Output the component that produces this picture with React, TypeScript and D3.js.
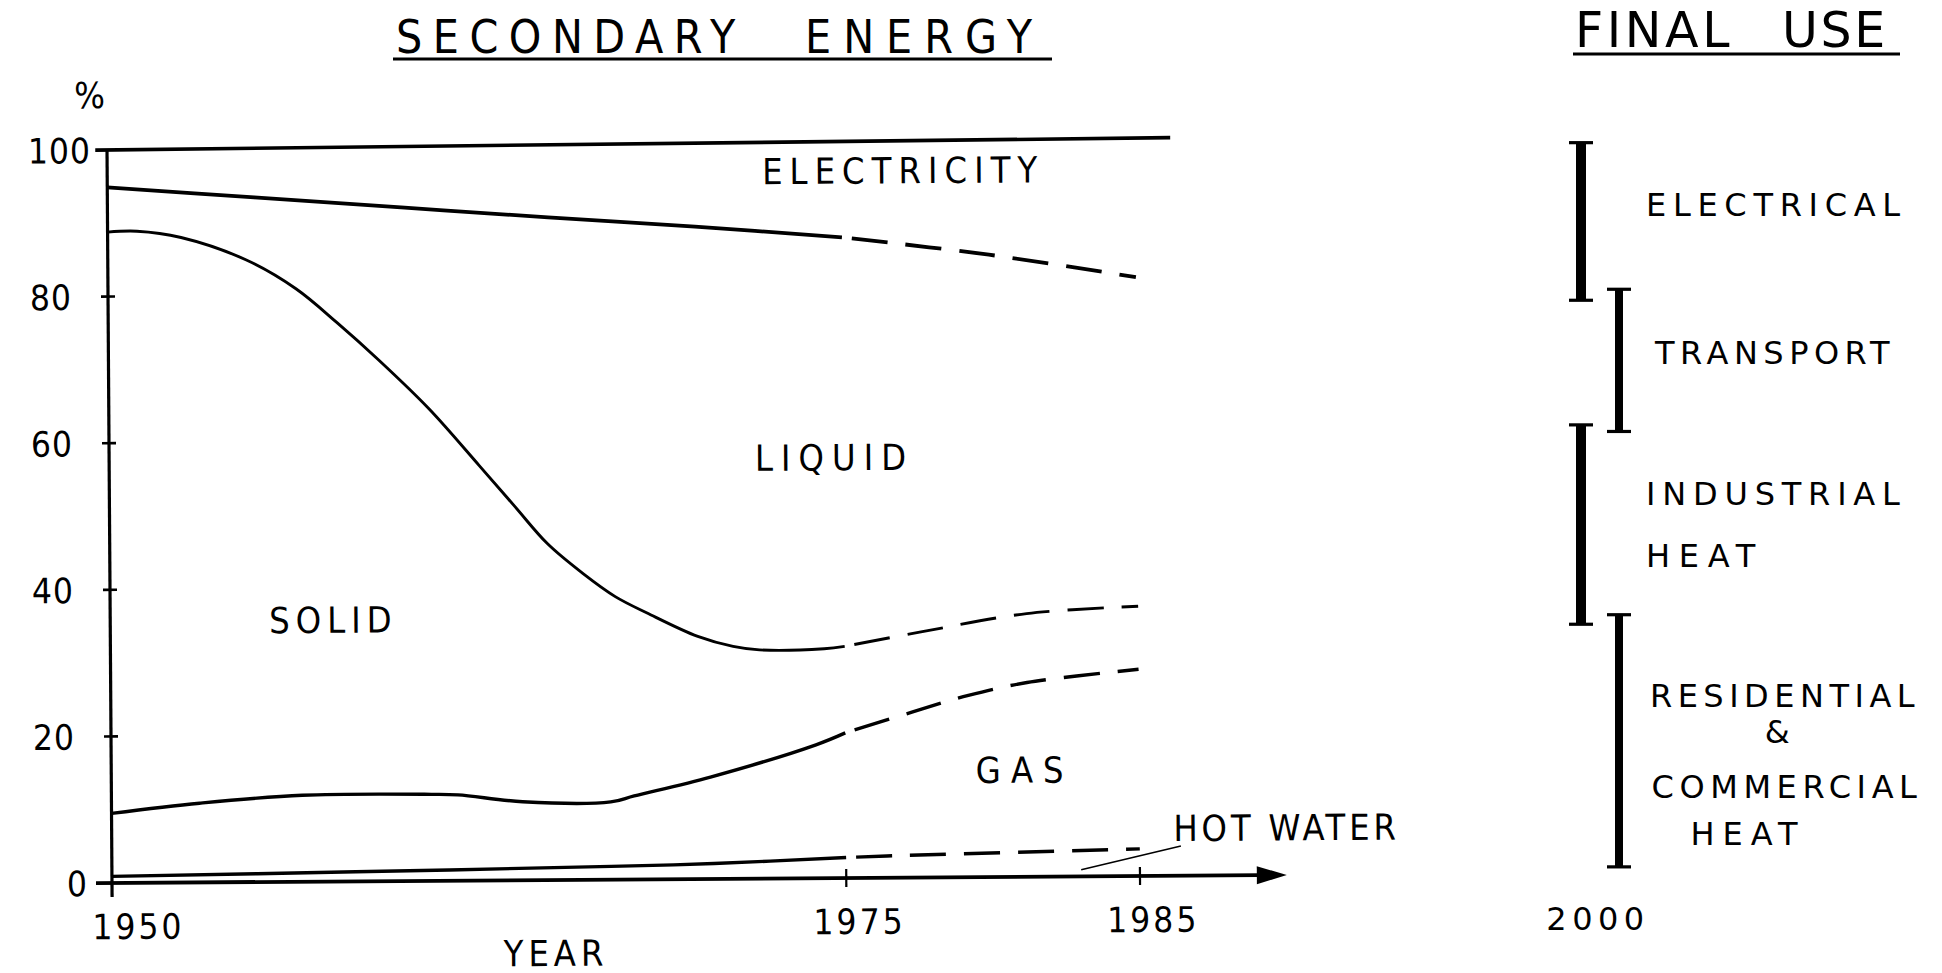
import React from 'react';
import * as d3 from 'd3';

// cumulative shares of secondary energy (%)
const topYears = [1949.6, 1986.2];
const topVals = [100, 100.7];

const elecYears = [1950, 1955, 1960, 1965, 1970, 1975, 1980, 1985];
const elecVals = [94.9, 93.4, 91.9, 90.4, 89.0, 87.4, 84.9, 81.7];

const liquidYears = [1950, 1951, 1952.5, 1954.7, 1956.4, 1957.8, 1959.2, 1960.9, 1962.6, 1963.8, 1964.9, 1966.1, 1967.2, 1968.3, 1970, 1971.2, 1972.1, 1974.3, 1975, 1977.6, 1981.2, 1985];
const liquidVals = [88.8, 88.9, 88.0, 84.9, 80.9, 76.2, 71.1, 64.4, 56.6, 51.0, 45.9, 41.8, 38.6, 36.3, 33.1, 31.7, 31.2, 31.3, 31.6, 33.5, 35.9, 36.8];

const gasYears = [1950, 1953, 1956.5, 1960.9, 1961.8, 1964, 1967, 1967.8, 1970.4, 1974, 1975, 1977.3, 1979.2, 1981.2, 1985];
const gasVals = [9.5, 10.8, 11.8, 11.8, 11.7, 10.7, 10.6, 11.4, 13.9, 18.2, 19.8, 22.6, 24.8, 26.5, 28.2];

const hotWaterYears = [1950, 1958.3, 1967, 1970.5, 1975, 1976.7, 1985];
const hotWaterVals = [0.9, 1.3, 1.8, 2.1, 2.8, 3.0, 3.7];

const projectionFrom = 1975; // dashed after this year

const yTicks = [0, 20, 40, 60, 80, 100];
const xTicks = [1950, 1975, 1985];

// final use in 2000, ranges on the same % scale
const finalUseNames = ['ELECTRICAL', 'TRANSPORT', 'INDUSTRIAL HEAT', 'RESIDENTIAL & COMMERCIAL HEAT'];
const finalUseTop = [101.0, 81.0, 62.5, 36.6];
const finalUseBottom = [79.5, 61.6, 35.3, 2.2];
const finalUseYear = '2000';

const W = 1942;
const H = 973;
const narrow = "'DejaVu Sans Condensed', 'DejaVu Sans', sans-serif";
const wide = "'DejaVu Sans', Verdana, sans-serif";

type Pt = [number, number];
const zip = (xs: number[], ys: number[]): Pt[] => xs.map((x, i) => [x, ys[i]]);

export default function App() {
  const x = d3.scaleLinear().domain([1950, 1985]).range([112, 1140]);
  const y = d3.scaleLinear().domain([0, 100]).range([883, 150]);
  const x0 = x(1950);
  const y0 = y(0);

  const line = d3.line<Pt>()
    .x(d => x(d[0]))
    .y(d => y(d[1]))
    .curve(d3.curveCatmullRom.alpha(0.5));

  const boundaries = [
    { pts: zip(elecYears, elecVals), w: 3.8 },
    { pts: zip(liquidYears, liquidVals), w: 2.9 },
    { pts: zip(gasYears, gasVals), w: 3.4 },
    { pts: zip(hotWaterYears, hotWaterVals), w: 3.4 },
  ];

  // the scan sits a little skewed, so the chart is turned the same way
  const tilt = `rotate(-0.39, ${x0}, ${y0})`;

  const arrowTip = x(1990);
  const arrowBase = arrowTip - 30;

  // where the region names sit (year, %)
  const regionLabels: { t: string; yr: number; v: number; ls: number }[] = [
    { t: 'ELECTRICITY', yr: 1977.1, v: 96.5, ls: 7 },
    { t: 'LIQUID', yr: 1974.7, v: 57.4, ls: 8 },
    { t: 'SOLID', yr: 1957.6, v: 35.7, ls: 6 },
    { t: 'GAS', yr: 1981.1, v: 14.6, ls: 10 },
    { t: 'HOT WATER', yr: 1990.0, v: 6.5, ls: 3.8 },
  ];

  // hand lettered tick numbers do not line up, nudge a couple of them
  const yLabelNudge = (t: number) => (t === 100 ? 22 : t === 0 ? 14 : 2);

  const barX = (i: number) => (i % 2 === 0 ? 1581 : 1619);

  return (
    <svg width={W} height={H} style={{ position: 'absolute', left: 0, top: 0, display: 'block', background: '#fff' }}>
      <rect width={W} height={H} fill="#fff" />

      {/* titles */}
      <g fontFamily={narrow} fontSize={46} fill="#000">
        <text x={396} y={53} letterSpacing={10.5}>SECONDARY</text>
        <text x={805} y={53} letterSpacing={12}>ENERGY</text>
      </g>
      <line x1={393} x2={1052} y1={59} y2={59} stroke="#000" strokeWidth={3.2} />

      <g fontFamily={wide} fontSize={49} fill="#000">
        <text x={1575} y={47} letterSpacing={3.6}>FINAL</text>
        <text x={1782} y={47} letterSpacing={2.6}>USE</text>
      </g>
      <line x1={1573} x2={1900} y1={54} y2={54} stroke="#000" strokeWidth={2.8} />

      <g transform={tilt}>
        {/* 100% line */}
        <path d={line(zip(topYears, topVals)) ?? ''} fill="none" stroke="#000" strokeWidth={3.6} />

        {boundaries.map((b, i) => {
          const solid = b.pts.filter(p => p[0] <= projectionFrom);
          const dashed = b.pts.filter(p => p[0] >= projectionFrom);
          return (
            <g key={i} fill="none" stroke="#000" strokeWidth={b.w}>
              <path d={line(solid) ?? ''} />
              <path d={line(dashed) ?? ''} strokeDasharray="36 18" strokeDashoffset={44} />
            </g>
          );
        })}

        {/* axes */}
        <line x1={x0} x2={x0} y1={y(100)} y2={y0 + 14} stroke="#000" strokeWidth={3.2} />
        <line x1={x0 - 16} x2={arrowBase + 2} y1={y0} y2={y0} stroke="#000" strokeWidth={3.8} />
        <path d={`M${arrowTip},${y0} L${arrowBase},${y0 - 9} L${arrowBase},${y0 + 9} Z`} fill="#000" />

        {yTicks.filter(t => t > 0 && t < 100).map(t => (
          <line key={t} x1={x0 - 7} x2={x0 + 7} y1={y(t)} y2={y(t)} stroke="#000" strokeWidth={2.6} />
        ))}
        {xTicks.filter(t => t > 1950).map(t => (
          <line key={t} x1={x(t)} x2={x(t)} y1={y0 - 9} y2={y0 + 9} stroke="#000" strokeWidth={2.2} />
        ))}

        <g fontFamily={narrow} fontSize={35} fill="#000">
          {yTicks.map(t => (
            <text key={t} x={x0 - 38 + yLabelNudge(t)} y={y(t) + 13} textAnchor="end" letterSpacing={1}>{t}</text>
          ))}
          {xTicks.map((t, i) => (
            <text key={t} x={i === 0 ? x(t) - 20 : x(t) + 13} y={y0 + 56}
              textAnchor={i === 0 ? 'start' : 'middle'} letterSpacing={3}>{t}</text>
          ))}
          <text x={x0 - 17} y={y(100) - 42} textAnchor="middle" fontSize={36}>%</text>
          <text x={x(1965.1)} y={y0 + 86} textAnchor="middle" fontSize={36} letterSpacing={5}>YEAR</text>
        </g>

        <g fontFamily={narrow} fontSize={36} fill="#000">
          {regionLabels.map(l => (
            <text key={l.t} x={x(l.yr)} y={y(l.v) + 13} textAnchor="middle" letterSpacing={l.ls}>{l.t}</text>
          ))}
        </g>
        <line x1={x(1983.0)} y1={y(0.9)} x2={x(1986.4)} y2={y(4.05)} stroke="#000" strokeWidth={1.6} />
      </g>

      {/* final use bars */}
      {finalUseNames.map((n, i) => {
        const bx = barX(i);
        const t = y(finalUseTop[i]);
        const b = y(finalUseBottom[i]);
        const bw = i % 2 === 0 ? 10 : 8;
        return (
          <g key={n} stroke="#000">
            <line x1={bx} x2={bx} y1={t} y2={b} strokeWidth={bw} />
            <line x1={bx - 12} x2={bx + 12} y1={t} y2={t} strokeWidth={3.2} />
            <line x1={bx - 12} x2={bx + 12} y1={b} y2={b} strokeWidth={3.2} />
          </g>
        );
      })}

      <g fontFamily={wide} fontSize={32} fill="#000" letterSpacing={5.5}>
        <text x={1646} y={216} letterSpacing={6.7}>ELECTRICAL</text>
        <text x={1655} y={364} letterSpacing={5.5}>TRANSPORT</text>
        <text x={1646} y={505} letterSpacing={6.8}>INDUSTRIAL</text>
        <text x={1646} y={567} letterSpacing={8.7}>HEAT</text>
        <text x={1785} y={707} textAnchor="middle">RESIDENTIAL</text>
        <text x={1780} y={743} textAnchor="middle">&amp;</text>
        <text x={1787} y={798} textAnchor="middle" letterSpacing={5.6}>COMMERCIAL</text>
        <text x={1748} y={845} textAnchor="middle" letterSpacing={8}>HEAT</text>
        <text x={1598} y={930} textAnchor="middle">{finalUseYear}</text>
      </g>
    </svg>
  );
}
